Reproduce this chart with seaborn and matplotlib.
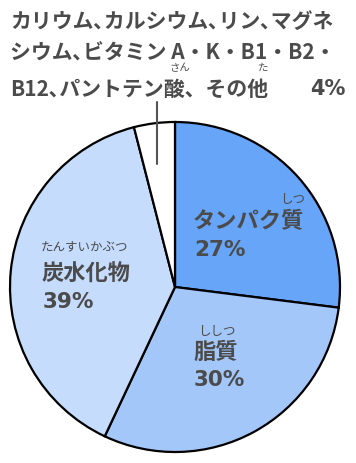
import matplotlib
matplotlib.use("Agg")
import matplotlib.pyplot as plt
import seaborn as sns
import numpy as np

# ---- data ----
categories = ["タンパク質", "脂質", "炭水化物", "その他"]
percent = [27, 30, 39, 4]
furigana = ["しつ", "ししつ", "たんすいかぶつ", ""]
slice_colors = ["#66a5f8", "#a4c7fa", "#c5dcfd", "#ffffff"]
title_lines = [
    "カリウム､カルシウム､リン､マグネ",
    "シウム､ビタミン A・K・B1・B2・",
    "B12､パントテン酸、その他",
]
other_pct_label = "4%"

sns.set_theme(style="white")
plt.rcParams['font.family'] = ['Noto Sans CJK JP', 'DejaVu Sans']

W, H = 356, 464
fig = plt.figure(figsize=(W / 100, H / 100), dpi=100)
ax = fig.add_axes([0, 0, 1, 1])
TXT = "#4b4b4b"

palette = sns.color_palette(slice_colors)
ax.pie(percent, colors=palette, startangle=90, counterclock=False,
       center=(175, H - 288), radius=165,
       wedgeprops=dict(edgecolor="black", linewidth=1.6))
ax.set_xlim(0, W)
ax.set_ylim(0, H)
ax.set_aspect("equal")
ax.axis("off")

def T(x, y, s, size, weight="bold", ha="left", va="center", family=None):
    kw = {}
    if family:
        kw["family"] = family
    return ax.text(x, H - y, s, fontsize=size, fontweight=weight, color=TXT,
                   ha=ha, va=va, **kw)

# title block
title_size = 15
line_y = [21, 53, 89]
for line, y in zip(title_lines, line_y):
    T(10, y, line, title_size)
T(346, 89, other_pct_label, title_size, ha="right", family=["DejaVu Sans"])
T(180, 68, "さん", 7.5, weight="normal", ha="center")
T(263, 68, "た", 7.5, weight="normal", ha="center")

# leader line for the small slice
ax.plot([157, 157], [H - 103, H - 165], color="#555555", lw=1.5)

# slice labels
lab = {
    "タンパク質": dict(x=193, y=222, fx=293, fy=200),
    "脂質": dict(x=193, y=352, fx=217, fy=331),
    "炭水化物": dict(x=42, y=274, fx=85, fy=247),
}
for cat, pct, fg in zip(categories, percent, furigana):
    if cat not in lab:
        continue
    d = lab[cat]
    T(d["x"], d["y"], cat, 16)
    T(d["x"] + 1, d["y"] + 28, f"{pct}%", 15.5, family=["DejaVu Sans"])
    T(d["fx"], d["fy"], fg, 9, weight="normal", ha="center")

fig.savefig("out.png", dpi=100)
